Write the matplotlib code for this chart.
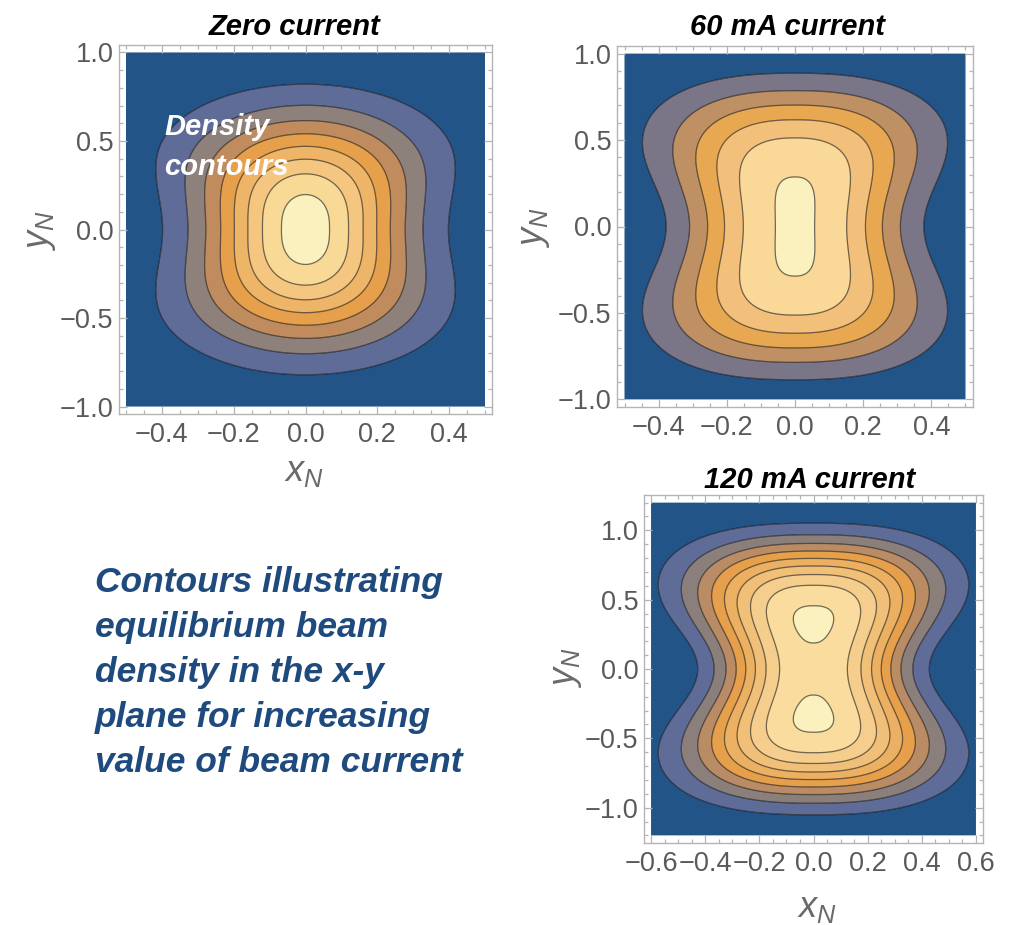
import numpy as np
import matplotlib
matplotlib.use("Agg")
import matplotlib.pyplot as plt
from matplotlib.ticker import MultipleLocator, FixedLocator, FuncFormatter

plt.rcParams["font.family"] = ["Liberation Sans", "DejaVu Sans"]
plt.rcParams["mathtext.fontset"] = "custom"
plt.rcParams["mathtext.it"] = "Liberation Sans:italic"
plt.rcParams["mathtext.rm"] = "Liberation Sans"

# ---- panel definitions -------------------------------------------------
titles = ["Zero current", "60 mA current", "120 mA current"]
x_half_range = [0.5, 0.5, 0.6]
y_half_range = [1.0, 1.0, 1.2]
n_contours = [8, 6, 9]

# equilibrium density model parameters (per beam current)
peak_density = [8.5, 6.12, 8.85]
y_quad = [0.0, 0.0, 0.5566]
y_decay = [3.51, 2.935, 2.287]
y_power = [2.5, 4.0, 4.0]
x_width = [0.272, 0.295, 0.313]
x_widening = [0.30, 0.30, 0.42]
widening_scale = [0.50, 0.40, 0.42]
x_power = [2.0, 2.4, 2.5]

x_major = [[-0.4, -0.2, 0.0, 0.2, 0.4],
           [-0.4, -0.2, 0.0, 0.2, 0.4],
           [-0.6, -0.4, -0.2, 0.0, 0.2, 0.4, 0.6]]
y_major = [-1.0, -0.5, 0.0, 0.5, 1.0]

fill_colors = [
    ["#235488", "#5e6c97", "#8e807a", "#c08c5e", "#e6a04c",
     "#eeb467", "#f4c680", "#f9d996", "#fbf1be"],
    ["#235488", "#7b7588", "#be9064", "#e8a852", "#f3c07c",
     "#f9d898", "#fbf1be"],
    ["#235488", "#5e6c97", "#8b7f7c", "#b98c65", "#e6a04c",
     "#ecb062", "#f1c078", "#f5cd8c", "#f9dc9e", "#fbf1be"],
]

caption_lines = ["Contours illustrating", "equilibrium beam",
                 "density in the x-y", "plane for increasing",
                 "value of beam current"]

# ---- layout (pixels) -----------------------------------------------------
W, H = 1016, 925
frames = [(119, 45, 492, 414), (617, 46, 973, 407), (644, 495, 983, 843)]
pad_x = [0.0195, 0.022, 0.026]
pad_y = [0.042, 0.044, 0.055]

fig = plt.figure(figsize=(W / 100, H / 100), dpi=100)
fig.patch.set_facecolor("white")


def fx(p):
    return p / W


def fy(p):
    return 1 - p / H


def density(x, y, i):
    g = np.log(peak_density[i]) + y_quad[i] * y ** 2 - y_decay[i] * np.abs(y) ** y_power[i]
    s = x_width[i] * (1 + x_widening[i] * (1 - np.exp(-(y / widening_scale[i]) ** 2)))
    return np.exp(g - (np.abs(x) / s) ** x_power[i])


def fmt(v, _pos):
    s = f"{v:.1f}"
    if s == "-0.0":
        s = "0.0"
    return s.replace("-", "\u2212")


tick_gray = "#b4b4b4"
label_gray = "#5a5a5a"

for i in range(3):
    l, t, r, b = frames[i]
    ax = fig.add_axes([fx(l), fy(b), (r - l) / W, (b - t) / H])
    xr, yr = x_half_range[i], y_half_range[i]
    xs = np.linspace(-xr, xr, 500)
    ys = np.linspace(-yr, yr, 600)
    X, Y = np.meshgrid(xs, ys)
    Z = density(X, Y, i)
    n = n_contours[i]
    levels = np.arange(0, n + 1, dtype=float)
    fill_levels = np.concatenate([levels, [Z.max() + 1]])
    ax.contourf(X, Y, Z, levels=fill_levels, colors=fill_colors[i], antialiased=True)
    ax.contour(X, Y, Z, levels=levels[1:], colors="black", linewidths=0.9, alpha=0.55)

    ax.set_xlim(-xr - pad_x[i], xr + pad_x[i])
    ax.set_ylim(-yr - pad_y[i], yr + pad_y[i])
    ax.xaxis.set_major_locator(FixedLocator(x_major[i]))
    ax.yaxis.set_major_locator(FixedLocator(y_major))
    ax.xaxis.set_minor_locator(MultipleLocator(0.05))
    ax.yaxis.set_minor_locator(MultipleLocator(0.1))
    ax.xaxis.set_major_formatter(FuncFormatter(fmt))
    ax.yaxis.set_major_formatter(FuncFormatter(fmt))
    ax.tick_params(which="both", direction="in", top=True, right=True,
                   color=tick_gray, width=0.9)
    ax.tick_params(which="major", length=5.5, labelsize=19.5,
                   labelcolor=label_gray)
    ax.tick_params(axis="x", which="major", pad=6)
    ax.tick_params(axis="y", which="major", pad=4)
    ax.tick_params(which="minor", length=3)
    for sp in ax.spines.values():
        sp.set_color(tick_gray)
        sp.set_linewidth(1.0)

# ---- titles and axis labels ------------------------------------------------
title_pos = [(295, 35), (787, 35), (810, 488)]
for (cx, by), txt in zip(title_pos, titles):
    fig.text(fx(cx), fy(by), txt, ha="center", va="baseline", fontsize=21,
             fontweight="bold", fontstyle="italic", color="black")

for cx, by in [(304, 481), (817, 917)]:
    fig.text(fx(cx), fy(by), r"$x_N$", ha="center", va="baseline",
             fontsize=26, color="#6a6a6a")
for cx, cy in [(40, 231), (535, 228), (567, 668)]:
    fig.text(fx(cx), fy(cy), r"$y_N$", ha="center", va="center",
             rotation=90, fontsize=26, color="#6a6a6a")

# label inside the zero-current panel
fig.text(fx(164), fy(135), "Density", ha="left", va="baseline", fontsize=21,
         fontweight="bold", fontstyle="italic", color="white")
fig.text(fx(164), fy(175), "contours", ha="left", va="baseline", fontsize=21,
         fontweight="bold", fontstyle="italic", color="white")

# caption block
for k, line in enumerate(caption_lines):
    fig.text(fx(95), fy(592 + 45 * k), line, ha="left", va="baseline",
             fontsize=25.5, fontweight="bold", fontstyle="italic",
             color="#1f4a7e")

fig.savefig("out.png", dpi=100, facecolor="white")
